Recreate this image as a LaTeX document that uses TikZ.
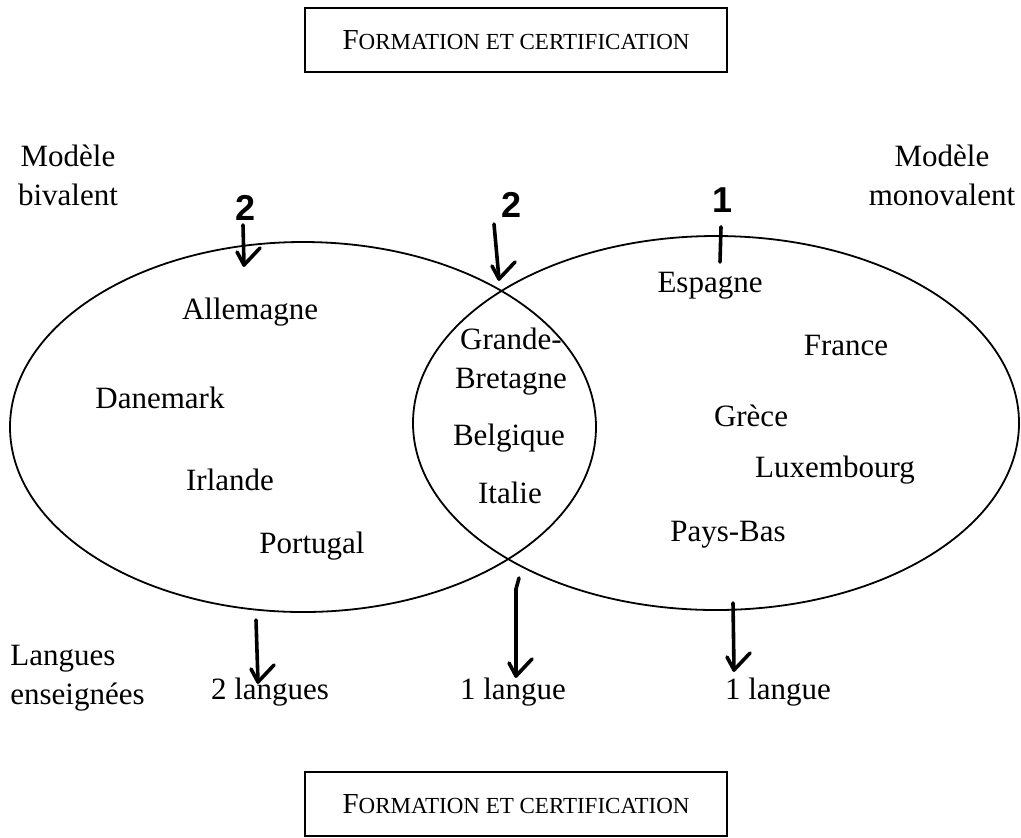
\documentclass[tikz,border=0pt]{standalone}
\usepackage{fontspec}
\setmainfont{Liberation Serif}
\newfontfamily\handfont{Liberation Sans}
\newcommand{\fauxsc}{{\fontsize{14.5}{14.5}\selectfont F}{\fontsize{11.5}{11.5}\selectfont ORMATION ET CERTIFICATION}}
\tikzset{handtip/.pic={\draw[hand] (-7,-13) -- (0,0) -- (16,-17);}}
\begin{document}
\begin{tikzpicture}[x=0.5pt,y=-0.5pt,
  txt/.style={font=\fontsize{15.5}{19.5}\selectfont, inner sep=0pt},
  titlebox/.style={draw, line width=0.6pt, minimum width=211pt, minimum height=32pt, inner sep=0pt},
  hand/.style={line width=1.8pt, line cap=round, line join=round},
  digit/.style={font=\handfont\bfseries\fontsize{18}{18}\selectfont, inner sep=0pt}]
\useasboundingbox (0,0) rectangle (1021,837);
\node[titlebox] (top) at (516,40){\fauxsc};
\node[titlebox] (bot) at (516,804){\fauxsc};
% the two models
\draw[line width=0.9pt] (303,427) ellipse [x radius=293, y radius=185];
\draw[line width=0.9pt] (716,423) ellipse [x radius=303, y radius=187];
\node[txt, align=center] (biv) at (68,175){Modèle\\bivalent};
\node[txt, align=center] (mono) at (942,175){Modèle\\monovalent};
\node[txt, align=left, anchor=west] (lang) at (10,678){Langues\\enseignées};
\node[txt] (all) at (250,312){Allemagne};
\node[txt] (dan) at (160,398){Danemark};
\node[txt] (irl) at (230,480){Irlande};
\node[txt] (por) at (312,546){Portugal};
\node[txt, align=center] (gb) at (511,362){Grande-\\Bretagne};
\node[txt] (bel) at (509,438){Belgique};
\node[txt] (ita) at (510,493){Italie};
\node[txt] (esp) at (710,286){Espagne};
\node[txt] (fra) at (846,345){France};
\node[txt] (gre) at (751,416){Grèce};
\node[txt] (lux) at (835,470){Luxembourg};
\node[txt] (pb) at (728,535){Pays-Bas};
\node[txt] (l2) at (270,692){2 langues};
\node[txt] (l1a) at (513,692){1 langue};
\node[txt] (l1b) at (778,692){1 langue};
% handwritten counts
\node[digit] (n1) at (246,208){2};
\node[digit] (n2) at (512,205){2};
\node[digit] (n3) at (722,200){1};
\coordinate (a1) at (244,265);
\coordinate (a2) at (499,279);
\coordinate (a3) at (720,262);
\draw[hand] (n1.south) ++(-3,4) -- (a1);
\pic at (a1) {handtip};
\draw[hand] (n2.south) ++(-18,6) -- (a2);
\pic at (a2) {handtip};
\draw[hand] (n3.south) ++(-1,14) -- (a3);
\coordinate (b1) at (256,620);
\coordinate (b2) at (519,578);
\coordinate (b3) at (733,603);
\draw[hand] (b1) -- (258,682);
\pic at (258,682) {handtip};
\draw[hand] (b2) -- (516,589) -- (516,676);
\pic at (516,676) {handtip};
\draw[hand] (b3) -- (734,670);
\pic at (734,670) {handtip};
\end{tikzpicture}
\end{document}
